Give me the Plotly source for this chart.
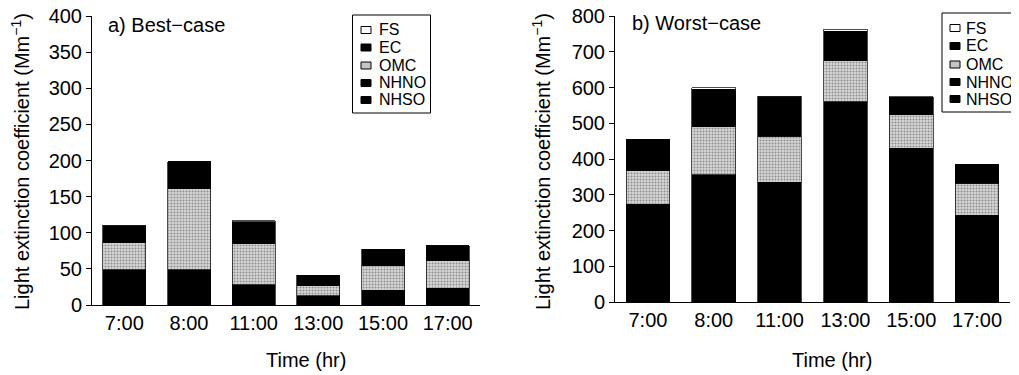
import plotly.graph_objects as go

times = ["7:00", "8:00", "11:00", "13:00", "15:00", "17:00"]
series = ["NHSO", "NHNO", "OMC", "EC", "FS"]

# a) Best-case (Mm^-1)
best_nhso = [30, 30, 18, 8, 13, 15]
best_nhno = [19, 19, 10, 5, 7.5, 8]
best_omc = [37, 112, 57, 13.5, 33.5, 38]
best_ec = [24, 37, 30, 14.5, 23, 21]
best_fs = [0.5, 0.5, 1.5, 0.3, 0.3, 0.3]

# b) Worst-case (Mm^-1)
worst_nhso = [180, 230, 220, 370, 280, 160]
worst_nhno = [93, 126, 115, 190, 150, 83]
worst_omc = [94, 134, 129, 115, 94, 89]
worst_ec = [88, 105, 110, 83, 49, 53]
worst_fs = [0.5, 4, 1, 5, 0.5, 0.5]

legend_order = ["FS", "EC", "OMC", "NHNO", "NHSO"]

FONT = "Liberation Sans, Arial, sans-serif"
W, H = 1019, 375
OFF = 8  # page body margin

styles = {
    "NHSO": dict(color="#000000"),
    "NHNO": dict(color="#000000"),
    "OMC": dict(color="#d6d6d6", pattern=dict(shape=".", fgcolor="#444444", size=3, solidity=0.35)),
    "EC": dict(color="#000000"),
    "FS": dict(color="#ffffff"),
}
swatch_fill = {"FS": "#ffffff", "EC": "#000000", "OMC": "#c4c4c4", "NHNO": "#000000", "NHSO": "#000000"}

fig = go.Figure()

def add_panel(vals, xa, ya):
    for name, v in zip(series, vals):
        st = styles[name]
        marker = dict(color=st["color"], line=dict(color="#000000", width=0.7))
        if "pattern" in st:
            marker["pattern"] = st["pattern"]
        fig.add_trace(go.Bar(x=times, y=v, name=name, marker=marker,
                             xaxis=xa, yaxis=ya, showlegend=False))

add_panel([best_nhso, best_nhno, best_omc, best_ec, best_fs], "x", "y")
add_panel([worst_nhso, worst_nhno, worst_omc, worst_ec, worst_fs], "x2", "y2")

axis_common = dict(
    showline=True, linecolor="#000000", linewidth=1, mirror=False,
    showgrid=False, zeroline=False, automargin=False, ticklabeloverflow="allow",
    tickfont=dict(family=FONT, size=20, color="#000000"),
)

def px(x):
    return (x - OFF) / W

def py(y):
    return 1 - (y - OFF) / H

shapes = []
annotations = []

def add_legend(x0, y0, x1, y1, sw_x, txt_x, item_ys):
    shapes.append(dict(type="rect", xref="paper", yref="paper", x0=px(x0), x1=px(x1),
                       y0=py(y1), y1=py(y0), line=dict(color="#000000", width=1),
                       fillcolor="#ffffff", layer="above"))
    for name, yc in zip(legend_order, item_ys):
        shapes.append(dict(type="rect", xref="paper", yref="paper",
                           x0=px(sw_x), x1=px(sw_x + 10), y0=py(yc + 3.5), y1=py(yc - 3.5),
                           line=dict(color="#000000", width=1), fillcolor=swatch_fill[name],
                           layer="above"))
        annotations.append(dict(text=name, x=px(txt_x), y=py(yc), xref="paper", yref="paper",
                                xanchor="left", yanchor="middle", showarrow=False,
                                font=dict(family=FONT, size=16, color="#000000")))

add_legend(352.5, 15, 430.5, 113, 361, 377, [30, 47.5, 65.5, 83, 100])
add_legend(942, 13, 1030, 112, 950, 964, [28, 46, 64.5, 82, 99])

ytitle = "Light extinction coefficient (Mm<sup>\u22121</sup>)"
for xc in (20, 541):
    annotations.append(dict(text=ytitle, x=px(xc), y=py(162), xref="paper", yref="paper",
                            xanchor="center", yanchor="middle", textangle=-90, showarrow=False,
                            font=dict(family=FONT, size=20, color="#000000")))
for xc in (306, 832):
    annotations.append(dict(text="Time (hr)", x=px(xc), y=py(360), xref="paper", yref="paper",
                            xanchor="center", yanchor="middle", showarrow=False,
                            font=dict(family=FONT, size=20, color="#000000")))
annotations.append(dict(text="a) Best\u2212case", x=px(106), y=py(25), xref="paper", yref="paper",
                        xanchor="left", yanchor="middle", showarrow=False,
                        font=dict(family=FONT, size=20, color="#000000")))
annotations.append(dict(text="b) Worst\u2212case", x=px(630), y=py(23), xref="paper", yref="paper",
                        xanchor="left", yanchor="middle", showarrow=False,
                        font=dict(family=FONT, size=20, color="#000000")))

fig.update_layout(
    width=W, height=H,
    margin=dict(l=0, r=0, t=0, b=0, autoexpand=False),
    paper_bgcolor="#ffffff", plot_bgcolor="#ffffff",
    barmode="stack", bargap=0.335,
    font=dict(family=FONT, color="#000000"),
    showlegend=False,
    xaxis=dict(domain=[px(92), px(480)], anchor="y", ticks="", **axis_common),
    yaxis=dict(domain=[py(305), py(16)], anchor="x", range=[0, 400], dtick=50,
               ticks="outside", ticklen=5, tickcolor="#000000", **axis_common),
    xaxis2=dict(domain=[px(615), px(1010)], anchor="y2", ticks="", **axis_common),
    yaxis2=dict(domain=[py(302), py(16)], anchor="x2", range=[0, 800], dtick=100,
                ticks="outside", ticklen=5, tickcolor="#000000", **axis_common),
    shapes=shapes,
    annotations=annotations,
)

fig.write_html("out.html")
